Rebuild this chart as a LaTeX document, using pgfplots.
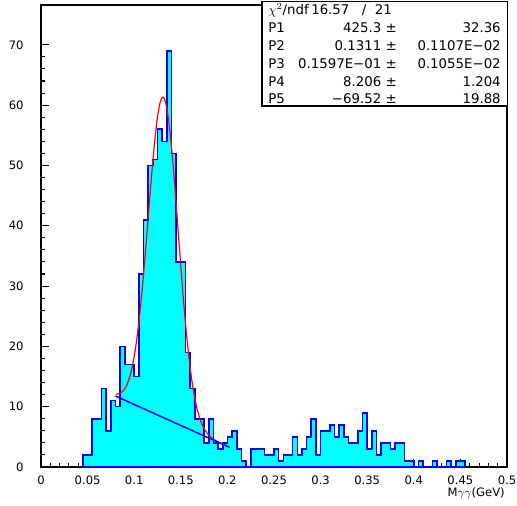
\documentclass[border=0pt]{standalone}
\usepackage{pgfplots}
\pgfplotsset{compat=1.18}
\usepackage{fontspec}
\setmainfont{DejaVu Sans}
\definecolor{histfill}{RGB}{0,255,255}
\definecolor{histline}{RGB}{0,0,255}
\definecolor{fitred}{RGB}{255,0,0}
\begin{document}
\begin{tikzpicture}
\begin{axis}[
  scale only axis, width=349.5pt, height=346.5pt,
  xmin=0, xmax=0.5, ymin=0, ymax=76.6,
  axis line style={line width=0.8pt},
  xtick={0,0.05,0.1,0.15,0.2,0.25,0.3,0.35,0.4,0.45,0.5},
  xticklabels={0,0.05,0.1,0.15,0.2,0.25,0.3,0.35,0.4,0.45,0.5},
  ytick={0,10,20,30,40,50,60,70},
  minor x tick num=4, minor y tick num=4,
  tick align=inside, tick pos=left,
  major tick length=6pt, minor tick length=3pt,
  tick style={black, line width=0.8pt},
  ticklabel style={font=\fontsize{8.7}{10}\selectfont},
  /pgf/number format/assume math mode=true,
  xticklabel style={yshift=-3pt},
  yticklabel style={xshift=-9.5pt},
  clip=false,
]
\addplot[const plot, fill=histfill, draw=histline, line width=1.2pt] coordinates {
(0.045,2) (0.05,2) (0.055,8) (0.06,8) (0.065,13) (0.07,6) (0.075,11) (0.08,10) (0.085,20) (0.09,17) (0.095,17) (0.1,15) (0.105,32) (0.11,41) (0.115,50) (0.12,51) (0.125,56) (0.13,54) (0.135,69) (0.14,52) (0.145,34) (0.15,34) (0.155,19) (0.16,13) (0.165,8) (0.17,8) (0.175,4) (0.18,8) (0.185,4) (0.19,3) (0.195,4) (0.2,5) (0.205,6) (0.21,3) (0.215,1) (0.22,0) (0.225,3) (0.23,3) (0.235,3) (0.24,2) (0.245,2) (0.25,3) (0.255,1) (0.26,2) (0.265,2) (0.27,5) (0.275,2) (0.28,3) (0.285,5) (0.29,8) (0.295,2) (0.3,6) (0.305,6) (0.31,7) (0.315,5) (0.32,7) (0.325,5) (0.33,4) (0.335,4) (0.34,6) (0.345,9) (0.35,3) (0.355,6) (0.36,2) (0.365,4) (0.37,4) (0.375,3) (0.38,4) (0.385,4) (0.39,1) (0.395,1) (0.4,0) (0.405,1) (0.41,0) (0.415,0) (0.42,1) (0.425,0) (0.43,0) (0.435,1) (0.44,0) (0.445,1) (0.45,1) (0.455,1)
} \closedcycle;
\addplot[fitred, line width=0.9pt, smooth] coordinates {
(0.08,12.08) (0.0825,12.10) (0.085,12.24) (0.0875,12.52) (0.09,13.00) (0.0925,13.75) (0.095,14.84) (0.0975,16.35) (0.1,18.34) (0.1025,20.88) (0.105,23.99) (0.1075,27.67) (0.11,31.87) (0.1125,36.46) (0.115,41.28) (0.1175,46.12) (0.12,50.70) (0.1225,54.75) (0.125,58.01) (0.1275,60.24) (0.13,61.28) (0.1325,61.03) (0.135,59.49) (0.1375,56.78) (0.14,53.07) (0.1425,48.58) (0.145,43.61) (0.1475,38.42) (0.15,33.26) (0.1525,28.36) (0.155,23.88) (0.1575,19.92) (0.16,16.53) (0.1625,13.71) (0.165,11.43) (0.1675,9.63) (0.17,8.24) (0.1725,7.17) (0.175,6.37) (0.1775,5.76) (0.18,5.30) (0.1825,4.93) (0.185,4.64) (0.1875,4.39) (0.19,4.17) (0.1925,3.97) (0.195,3.78) (0.1975,3.60) (0.2,3.42) (0.2025,3.24)
};
\addplot[histline, line width=1.1pt] coordinates {(0.08,11.76) (0.2025,3.24)};
\coordinate (A) at (rel axis cs:0,1);
\end{axis}
\coordinate (O) at ([xshift=-30.75pt,yshift=3.75pt]A);
\begin{scope}[shift={(O)}, x=0.75pt, y=-0.75pt]
  \draw[fill=white, line width=0.8pt] (262,1.7) rectangle (507.5,106);
  \begin{scope}[every node/.style={font=\fontsize{10}{12}\selectfont, inner sep=0pt}]
    \node[anchor=west] at (268,10) {$\chi^2$/ndf};
    \node[anchor=west] at (311,10) {16.57};
    \node at (364,10) {/};
    \node[anchor=east] at (392,10) {21};
    \node[anchor=west] at (268,28) {P1};
    \node[anchor=east] at (397,28) {425.3 ±};
    \node[anchor=east] at (501,28) {32.36};
    \node[anchor=west] at (268,46) {P2};
    \node[anchor=east] at (397,46) {0.1311 ±};
    \node[anchor=east] at (501,46) {0.1107E−02};
    \node[anchor=west] at (268,64) {P3};
    \node[anchor=east] at (397,64) {0.1597E−01 ±};
    \node[anchor=east] at (501,64) {0.1055E−02};
    \node[anchor=west] at (268,82) {P4};
    \node[anchor=east] at (397,82) {8.206 ±};
    \node[anchor=east] at (501,82) {1.204};
    \node[anchor=west] at (268,99) {P5};
    \node[anchor=east] at (397,99) {−69.52 ±};
    \node[anchor=east] at (501,99) {19.88};
  \end{scope}
  \node[anchor=east, inner sep=0pt, font=\fontsize{8.7}{10}\selectfont] at (505,493) {M$\gamma\gamma$(GeV)};
\end{scope}
\pgfresetboundingbox
\useasboundingbox (O) rectangle ([xshift=387.75pt,yshift=-379.5pt]O);
\end{tikzpicture}
\end{document}
